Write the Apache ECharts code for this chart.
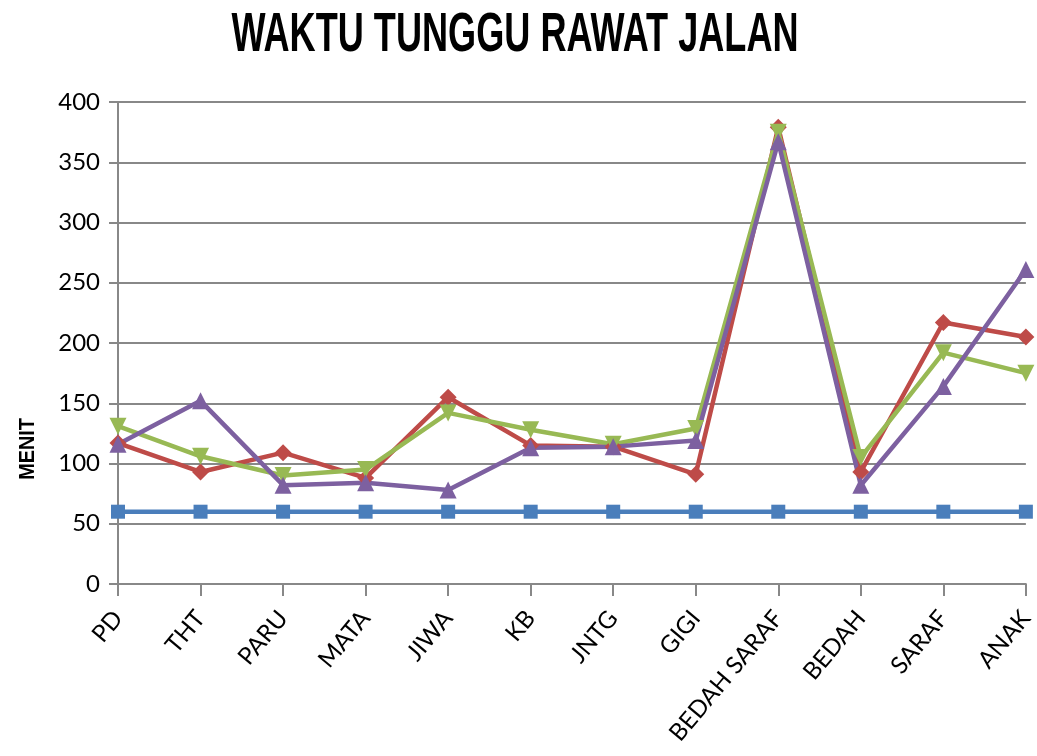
<!DOCTYPE html>
<html><head><meta charset="utf-8">
<script src="https://cdn.jsdelivr.net/npm/echarts@6/dist/echarts.min.js"></script>
<style>html,body{margin:0;padding:0;background:#fff}#c{width:1037px;height:756px}</style>
</head><body><div id="c"></div>
<script>
const titleText = "WAKTU TUNGGU RAWAT JALAN";
const yName = "MENIT";
const categories = ["PD","THT","PARU","MATA","JIWA","KB","JNTG","GIGI","BEDAH SARAF","BEDAH","SARAF","ANAK"];
const seriesBlue   = [60,60,60,60,60,60,60,60,60,60,60,60];
const seriesRed    = [117,93,109,88,155,115,114,91,379,93,217,205];
const seriesGreen  = [131,106,90,95,142,128,116,129,375,105,192,175];
const seriesPurple = [116,152,82,84,78,113,114,119,367,82,164,261];

const FONT = "Lato, 'Open Sans', sans-serif";
function mk(name, data, color, symbol, rotate, size){
  return {name, type:'line', data, symbol, symbolSize:size, symbolRotate:rotate,
    lineStyle:{color, width:4.5}, itemStyle:{color}, animation:false};
}
const chart = echarts.init(document.getElementById('c'));
chart.setOption({
  backgroundColor:'#fff',
  graphic:[
    {type:'text', x:515, y:36, scaleX:0.645, silent:true,
     style:{text:titleText, font:"bold 56px 'Liberation Sans', sans-serif", fill:'#000', textAlign:'center', textVerticalAlign:'middle'}},
    {type:'text', x:28, y:449, rotation:Math.PI/2, scaleX:0.9, silent:true,
     style:{text:yName, font:"bold 22px 'Liberation Sans', sans-serif", fill:'#000', textAlign:'center', textVerticalAlign:'middle'}}
  ],
  grid:{left:118,right:9,top:102,bottom:172,containLabel:false},
  xAxis:{type:'category',data:categories,boundaryGap:false,
    axisLine:{lineStyle:{color:'#888',width:2}},
    axisTick:{show:true,length:12,lineStyle:{color:'#888',width:2}},
    axisLabel:{rotate:50,interval:0,fontFamily:FONT,fontSize:24,color:'#000',margin:30}},
  yAxis:{type:'value',min:0,max:400,interval:50,
    axisLine:{show:true,lineStyle:{color:'#888',width:2}},
    axisTick:{show:true,length:9,lineStyle:{color:'#888',width:2}},
    splitLine:{lineStyle:{color:'#888',width:2}},
    axisLabel:{fontFamily:FONT,fontSize:24,color:'#000',margin:18}},
  series:[
    mk('Blue',seriesBlue,'#4a7ebb','rect',0,14),
    mk('Red',seriesRed,'#be4b48','diamond',0,17),
    mk('Green',seriesGreen,'#98b954','triangle',180,17),
    mk('Purple',seriesPurple,'#7d60a0','triangle',0,17)
  ]
});
</script></body></html>
